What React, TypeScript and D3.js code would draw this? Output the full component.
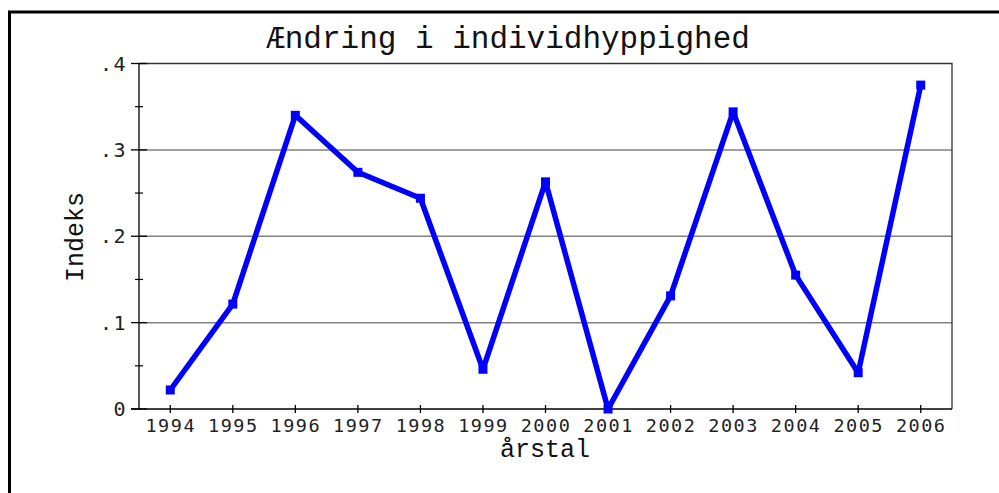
import React, { useEffect, useRef } from 'react';
import * as d3 from 'd3';

const years = [1994, 1995, 1996, 1997, 1998, 1999, 2000, 2001, 2002, 2003, 2004, 2005, 2006];
const values = [0.022, 0.1215, 0.34, 0.274, 0.244, 0.046, 0.263, 0.0, 0.131, 0.344, 0.155, 0.042, 0.375];
const yTicks = [0, 0.1, 0.2, 0.3, 0.4];
const yTickLabels = ['0', '.1', '.2', '.3', '.4'];
const yMinor = [0.05, 0.15, 0.25, 0.35];
const title = 'Ændring i individhyppighed';
const xTitle = 'årstal';
const yTitle = 'Indeks';

const App = () => {
  const ref = useRef<SVGSVGElement>(null);

  useEffect(() => {
    const width = 999;
    const height = 493;
    const margin = { top: 63.5, right: 47, bottom: 84, left: 139 };
    const svg = d3.select(ref.current);
    svg.selectAll('*').remove();

    const x = d3.scaleLinear()
      .domain([1993.5, 2006.5])
      .range([margin.left, width - margin.right]);
    const y = d3.scaleLinear()
      .domain([0, 0.4])
      .range([height - margin.bottom, margin.top]);

    const tickFont = '"DejaVu Sans Mono", monospace';
    const titleFont = '"Liberation Mono", "Courier New", monospace';

    // outer frame (only top and left are in view)
    svg.append('rect')
      .attr('x', 9.5).attr('y', 12)
      .attr('width', 1200).attr('height', 800)
      .attr('fill', 'none').attr('stroke', '#000').attr('stroke-width', 3);

    // title
    svg.append('text')
      .attr('x', 508).attr('y', 48)
      .attr('text-anchor', 'middle')
      .attr('font-family', titleFont).attr('font-size', 31)
      .attr('font-weight', 300)
      .attr('fill', '#111')
      .text(title);

    // gridlines
    svg.append('g').selectAll('line')
      .data([0.1, 0.2, 0.3])
      .enter().append('line')
      .attr('x1', x.range()[0]).attr('x2', x.range()[1])
      .attr('y1', d => y(d)).attr('y2', d => y(d))
      .attr('stroke', '#808080').attr('stroke-width', 1.5);

    // plot border top / right
    svg.append('path')
      .attr('d', `M${x.range()[0]},${y(0.4)}H${x.range()[1]}V${y(0)}`)
      .attr('fill', 'none').attr('stroke', '#333').attr('stroke-width', 1.3);

    // axes lines
    svg.append('line')
      .attr('x1', x.range()[0]).attr('x2', x.range()[0])
      .attr('y1', y(0.4)).attr('y2', y(0))
      .attr('stroke', '#000').attr('stroke-width', 1.3);
    svg.append('line')
      .attr('x1', x.range()[0] - 8).attr('x2', x.range()[1])
      .attr('y1', y(0)).attr('y2', y(0))
      .attr('stroke', '#000').attr('stroke-width', 1.3);

    // y ticks
    svg.append('g').selectAll('line')
      .data(yTicks)
      .enter().append('line')
      .attr('x1', x.range()[0] - 8).attr('x2', x.range()[0] + 8)
      .attr('y1', d => y(d)).attr('y2', d => y(d))
      .attr('stroke', '#000').attr('stroke-width', 1.3);
    svg.append('g').selectAll('line')
      .data(yMinor)
      .enter().append('line')
      .attr('x1', x.range()[0] - 4).attr('x2', x.range()[0] + 4)
      .attr('y1', d => y(d)).attr('y2', d => y(d))
      .attr('stroke', '#000').attr('stroke-width', 1.2);
    svg.append('g').selectAll('text')
      .data(yTicks)
      .enter().append('text')
      .attr('x', 127).attr('y', d => y(d))
      .attr('dy', '0.36em')
      .attr('text-anchor', 'end')
      .attr('font-family', tickFont).attr('font-size', 20)
      .attr('letter-spacing', 1.5)
      .attr('fill', '#222')
      .text((d, i) => yTickLabels[i]);

    // x ticks
    svg.append('g').selectAll('line')
      .data(years)
      .enter().append('line')
      .attr('x1', d => x(d)).attr('x2', d => x(d))
      .attr('y1', y(0) - 4).attr('y2', y(0) + 4)
      .attr('stroke', '#000').attr('stroke-width', 1.3);
    svg.append('g').selectAll('text')
      .data(years)
      .enter().append('text')
      .attr('x', d => x(d) + 0.5).attr('y', 432)
      .attr('text-anchor', 'middle')
      .attr('font-family', tickFont).attr('font-size', 18.5)
      .attr('letter-spacing', 1.5)
      .attr('fill', '#222')
      .text(d => String(d));

    // axis titles
    svg.append('text')
      .attr('x', 545).attr('y', 457)
      .attr('text-anchor', 'middle')
      .attr('font-family', titleFont).attr('font-size', 25)
      .attr('fill', '#111')
      .text(xTitle);
    svg.append('text')
      .attr('transform', `translate(83,237) rotate(-90)`)
      .attr('text-anchor', 'middle')
      .attr('font-family', titleFont).attr('font-size', 25)
      .attr('fill', '#111')
      .text(yTitle);

    // series
    const line = d3.line<number>()
      .x((d, i) => x(years[i]))
      .y(d => y(d));
    svg.append('path')
      .datum(values)
      .attr('d', line)
      .attr('fill', 'none')
      .attr('stroke', '#0000ff')
      .attr('stroke-width', 5.5)
      .attr('stroke-linejoin', 'round');
    svg.append('g').selectAll('rect')
      .data(values)
      .enter().append('rect')
      .attr('x', (d, i) => x(years[i]) - 4.5)
      .attr('y', d => y(d) - 4.5)
      .attr('width', 9).attr('height', 9)
      .attr('fill', '#0000ff');
  }, []);

  return (
    <svg
      ref={ref}
      width={999}
      height={493}
      style={{ position: 'absolute', left: 0, top: 0, background: '#fff' }}
    />
  );
};

export default App;
